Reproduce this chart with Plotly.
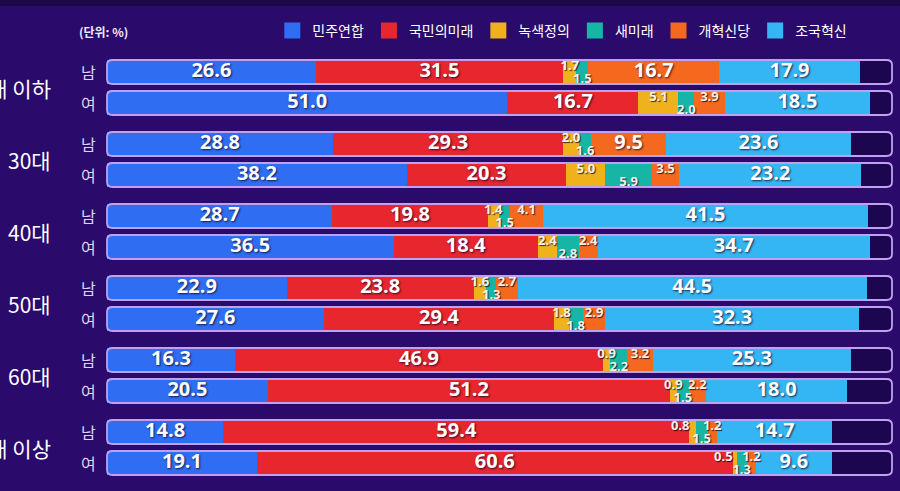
import plotly.graph_objects as go

parties = ["민주연합", "국민의미래", "녹색정의", "새미래", "개혁신당", "조국혁신"]
colors = ["#2f6ef2", "#e7262e", "#efb21c", "#17b5a5", "#f5691f", "#35b6f4"]
groups = ["20대 이하", "30대", "40대", "50대", "60대", "70대 이상"]
genders = ["남", "여"]

# rows: for each group, 남 then 여
minju = [26.6, 51.0, 28.8, 38.2, 28.7, 36.5, 22.9, 27.6, 16.3, 20.5, 14.8, 19.1]
gukmin = [31.5, 16.7, 29.3, 20.3, 19.8, 18.4, 23.8, 29.4, 46.9, 51.2, 59.4, 60.6]
noksaek = [1.7, 5.1, 2.0, 5.0, 1.4, 2.4, 1.6, 1.8, 0.9, 0.9, 0.8, 0.5]
saemirae = [1.5, 2.0, 1.6, 5.9, 1.5, 2.8, 1.3, 1.8, 2.2, 1.5, 1.5, 1.3]
gaehyuk = [16.7, 3.9, 9.5, 3.5, 4.1, 2.4, 2.7, 2.9, 3.2, 2.2, 1.2, 1.2]
jokuk = [17.9, 18.5, 23.6, 23.2, 41.5, 34.7, 44.5, 32.3, 25.3, 18.0, 14.7, 9.6]

series = [minju, gukmin, noksaek, saemirae, gaehyuk, jokuk]

BG = "#2a0a6b"
REM = "#1d0650"
FRAME = "#bfa2ee"

rows_y = []
for g in range(len(groups)):
    rows_y.append(72 + 72 * g)
    rows_y.append(103 + 72 * g)

fig = go.Figure()


def rounded(x0, x1, y0, y1, rx, ry):
    return (f"M {x0+rx},{y0} L {x1-rx},{y0} Q {x1},{y0} {x1},{y0+ry} "
            f"L {x1},{y1-ry} Q {x1},{y1} {x1-rx},{y1} L {x0+rx},{y1} "
            f"Q {x0},{y1} {x0},{y1-ry} L {x0},{y0+ry} Q {x0},{y0} {x0+rx},{y0} Z")


shapes = [dict(type="rect", xref="paper", yref="paper", x0=0, x1=1, y0=1 - 6 / 491, y1=1,
               fillcolor="#1c0748", line=dict(width=0), layer="below")]
for y in rows_y:
    p = rounded(0, 100, y - 12, y + 12, 0.7, 5)
    shapes.append(dict(type="path", path=p, xref="x", yref="y",
                       fillcolor=REM, line=dict(width=0), layer="below"))
    shapes.append(dict(type="path", path=p, xref="x", yref="y",
                       fillcolor="rgba(0,0,0,0)", line=dict(color=FRAME, width=1.8),
                       layer="above"))

for name, col, vals in zip(parties, colors, series):
    fig.add_trace(go.Bar(
        x=vals, y=rows_y, orientation="h", name=name, showlegend=False,
        marker=dict(color=col, line=dict(width=0)),
        width=24, hoverinfo="skip",
    ))

# legend proxies
for name, col in zip(parties, colors):
    fig.add_trace(go.Scatter(
        x=[None], y=[None], mode="markers", name=name,
        marker=dict(symbol="square", size=16, color=col),
    ))

# labels
big_x, big_y, big_t = [], [], []
sm_x, sm_y, sm_t, sm_pos = [], [], [], []
for r, y in enumerate(rows_y):
    cum = 0.0
    for k, vals in enumerate(series):
        v = vals[r]
        center = cum + v / 2
        if v >= 7:
            big_x.append(center); big_y.append(y); big_t.append(f"{v:.1f}")
        else:
            yy = y + 7.5 if k == 3 else y - 5
            if v < 0.85:
                sm_x.append(cum); sm_pos.append("middle left")
            else:
                sm_x.append(center); sm_pos.append("middle center")
            sm_y.append(yy); sm_t.append(f"{v:.1f}")
        cum += v

fig.add_trace(go.Scatter(
    x=big_x, y=big_y, text=big_t, mode="text", showlegend=False, hoverinfo="skip",
    textposition="middle center",
    textfont=dict(family="Open Sans", size=20, color="#ffffff", weight="bold",
                  shadow="1px 1px 2px rgba(20,0,40,0.8)"),
))
fig.add_trace(go.Scatter(
    x=sm_x, y=sm_y, text=sm_t, mode="text", showlegend=False, hoverinfo="skip",
    textposition=sm_pos,
    textfont=dict(family="Open Sans", size=13, color="#f7f2e4", weight="bold",
                  shadow="1px 1px 1px rgba(20,0,40,0.8)"),
))

annotations = []
for g, name in enumerate(groups):
    annotations.append(dict(
        x=53 / 900, xref="paper", xanchor="right", y=87.5 + 72 * g, yref="y",
        text=name, showarrow=False,
        font=dict(family="Noto Sans CJK KR", size=21, color="#ffffff"),
    ))
for r, y in enumerate(rows_y):
    annotations.append(dict(
        x=88 / 900, xref="paper", xanchor="center", y=y, yref="y",
        text=genders[r % 2], showarrow=False,
        font=dict(family="Noto Sans CJK KR", size=16, color="#ddd3f2"),
    ))
annotations.append(dict(
    x=77 / 900, xref="paper", xanchor="left", y=31, yref="y",
    text="<b>(단위: %)</b>", showarrow=False,
    font=dict(family="Noto Sans CJK KR", size=12, color="#f0ebff"),
))

fig.update_layout(
    width=900, height=491,
    margin=dict(l=0, r=0, t=0, b=0),
    paper_bgcolor=BG, plot_bgcolor=BG,
    barmode="stack", bargap=0,
    showlegend=True,
    legend=dict(orientation="h", x=0.947, xanchor="right", y=1 - 31 / 491,
                yanchor="middle", bgcolor="rgba(0,0,0,0)",
                font=dict(family="Noto Sans CJK KR", size=14, color="#ffffff"),
                traceorder="normal", itemclick=False, itemwidth=30,
                itemsizing="trace"),
    xaxis=dict(range=[-107 / 7.85, (900 - 107) / 7.85], visible=False, fixedrange=True),
    yaxis=dict(range=[491, 0], visible=False, fixedrange=True),
    shapes=shapes, annotations=annotations,
)

fig.write_html("out.html")
